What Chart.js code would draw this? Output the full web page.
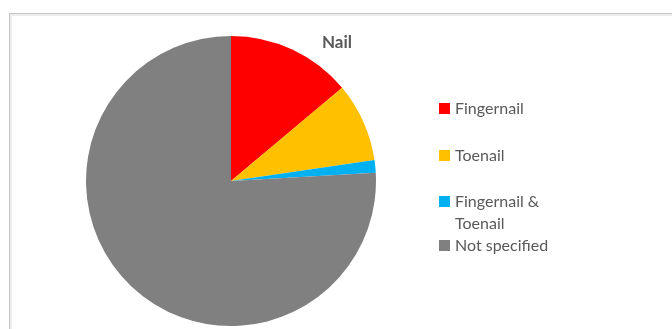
<!DOCTYPE html>
<html>
<head>
<meta charset="utf-8">
<script src="https://cdn.jsdelivr.net/npm/chart.js"></script>
<style>
  html, body { margin: 0; padding: 0; background: #fff; }
  #wrap { position: relative; width: 672px; height: 329px; overflow: hidden; font-family: Lato, "Open Sans", sans-serif; }
  /* chart frame, only top and left edges are visible */
  #frame { position: absolute; left: 9px; top: 13px; width: 700px; height: 340px;
           border-top: 1px solid #c4c4c4; border-left: 1px solid #c4c4c4; }
  #frame::after { content: ""; position: absolute; left: 0; top: 0; right: 0; bottom: 0;
           border-top: 2px solid #ededed; border-left: 2px solid #ededed; }
  #chartBox { position: absolute; left: 0; top: 0; width: 672px; height: 329px; }
  #title { position: absolute; left: 300px; width: 74px; top: 31px; text-align: center;
           font-weight: bold; font-size: 17px; color: #595959; }
  #legend { position: absolute; left: 439px; top: 0; }
  .item { position: absolute; white-space: nowrap; font-size: 16px; line-height: 22px; color: #595959; }
  .sw { position: absolute; left: 0; width: 11px; height: 11px; }
  .txt { position: absolute; left: 16px; top: 0; }
</style>
</head>
<body>
<div id="wrap">
  <div id="frame"></div>
  <div id="chartBox"><canvas id="pieChart"></canvas></div>
  <div id="title">Nail</div>
  <div id="legend"></div>
</div>
<script>
// --- Data ---
const categories = ["Fingernail", "Toenail", "Fingernail & Toenail", "Not specified"];
const legendLines = [["Fingernail"], ["Toenail"], ["Fingernail &", "Toenail"], ["Not specified"]];
const shares = [13.9, 8.8, 1.4, 75.9];
const sliceColors = ["#ff0000", "#ffc000", "#00b0f0", "#808080"];

// legend row tops (px), first text line
const legendTops = [97, 144, 190, 234];

const ctx = document.getElementById("pieChart").getContext("2d");
const pieChart = new Chart(ctx, {
  type: "pie",
  data: {
    labels: categories,
    datasets: [
      {
        data: shares,
        backgroundColor: sliceColors,
        borderWidth: 0,
      },
    ],
  },
  options: {
    responsive: true,
    maintainAspectRatio: false,
    animation: false,
    layout: { padding: { left: 86, right: 296, top: 36, bottom: 3 } },
    plugins: {
      legend: { display: false },
      title: { display: false },
      tooltip: { enabled: false },
    },
  },
});

// --- HTML legend ---
const legendEl = document.getElementById("legend");
legendLines.forEach((lines, i) => {
  const item = document.createElement("div");
  item.className = "item";
  item.style.top = legendTops[i] + "px";
  const sw = document.createElement("div");
  sw.className = "sw";
  sw.style.background = sliceColors[i];
  sw.style.top = "6px";
  const txt = document.createElement("div");
  txt.className = "txt";
  txt.innerHTML = lines.join("<br>");
  item.appendChild(sw);
  item.appendChild(txt);
  legendEl.appendChild(item);
});
</script>
</body>
</html>
